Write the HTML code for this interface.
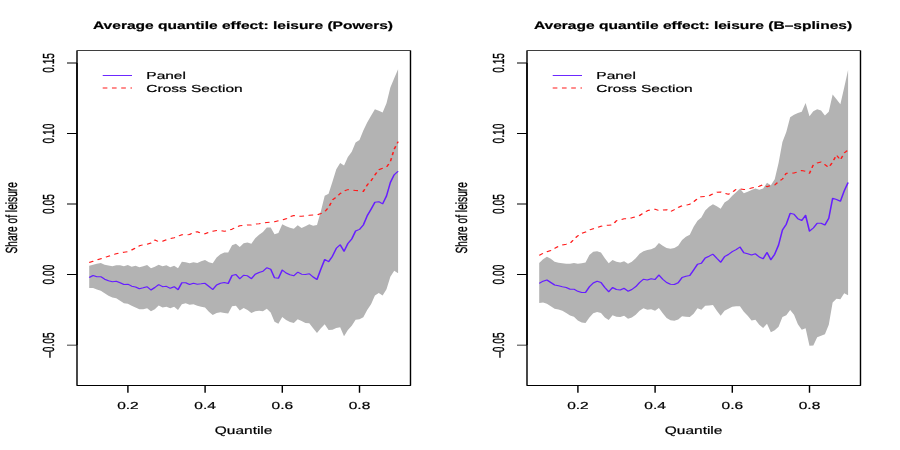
<!DOCTYPE html>
<html><head><meta charset="utf-8"><title>Average quantile effect: leisure</title>
<style>
html,body{margin:0;padding:0;background:#fff;}
body{width:900px;height:450px;overflow:hidden;font-family:"Liberation Sans",sans-serif;}
svg{display:block;will-change:transform;}
</style></head><body>
<svg width="900" height="450" viewBox="0 0 900 450">
<rect width="900" height="450" fill="#fff"/>
<g transform="scale(1.5,1)" fill="none" stroke-width="0.95" stroke-linejoin="round">
<polygon points="59.47,265.8 62.04,264.7 64.61,263.8 67.19,263 69.76,264.7 72.34,265.5 74.91,266.2 77.48,265.3 80.06,265.3 82.63,266.2 85.21,265 87.78,266.7 90.35,265.8 92.93,267.2 95.5,266.2 98.08,265 100.65,268.3 103.22,266.7 105.8,264.7 108.37,266.3 110.95,265.3 113.52,267.2 116.09,265.8 118.67,268.3 121.24,261.7 123.82,262.2 126.39,263.3 128.96,262.2 131.54,263 134.11,261.3 136.69,260 139.26,262.2 141.83,263.3 144.41,257.5 146.98,254.2 149.56,252.5 152.13,252.5 154.7,245.3 157.28,243.8 159.85,247 162.43,243.3 165,242.5 167.57,243.7 170.15,238.3 172.72,234.7 175.3,232 177.87,227.5 180.44,227.5 183.02,234.2 185.59,233 188.17,224.2 190.74,226.3 193.31,227.8 195.89,228.7 198.46,225.3 201.04,228 203.61,226.3 206.18,224.2 208.76,225.8 211.33,225 213.91,211.2 216.48,195.8 219.05,193.7 221.63,181.8 224.2,169.2 226.78,163 229.35,165.5 231.92,157 234.5,151.8 237.07,142.5 239.65,140 242.22,130.6 244.79,122.5 247.37,115.8 249.94,109.2 252.52,110.8 255.09,112.5 257.66,103.3 260.24,87.5 262.81,78.3 265.39,69.2 265.39,273.3 262.81,270.8 260.24,276.7 257.66,289.2 255.09,295.5 252.52,293 249.94,295.5 247.37,304.2 244.79,310 242.22,317.2 239.65,319.2 237.07,319.7 234.5,325.8 231.92,330 229.35,336.3 226.78,327.2 224.2,328 221.63,329.7 219.05,330 216.48,324.2 213.91,328.3 211.33,333 208.76,328.3 206.18,323.2 203.61,323 201.04,321 198.46,319.2 195.89,323 193.31,322 190.74,320 188.17,317 185.59,323.7 183.02,321.7 180.44,312.5 177.87,308.8 175.3,311.3 172.72,310.8 170.15,311.2 167.57,313 165,310 162.43,308 159.85,310.5 157.28,305.8 154.7,306.3 152.13,313.5 149.56,313 146.98,312.3 144.41,313 141.83,315 139.26,311.7 136.69,307.5 134.11,306.7 131.54,305.8 128.96,304.2 126.39,304.7 123.82,303.3 121.24,304.2 118.67,310 116.09,306.7 113.52,308.3 110.95,306.7 108.37,307.5 105.8,305.5 103.22,309.2 100.65,311.3 98.08,308.3 95.5,309.2 92.93,309.2 90.35,307.5 87.78,305.8 85.21,303.8 82.63,303.3 80.06,300.8 77.48,298.3 74.91,297.5 72.34,295.8 69.76,293.3 67.19,290.8 64.61,289.5 62.04,288 59.47,288" fill="#b3b3b3" stroke="none"/>
<polyline points="59.47,277.5 62.04,275.5 64.61,276.7 67.19,276.7 69.76,279.2 72.34,280.8 74.91,281.7 77.48,281.3 80.06,282.8 82.63,284.5 85.21,284.2 87.78,286.2 90.35,287 92.93,288.7 95.5,287.8 98.08,286.7 100.65,290 103.22,287.5 105.8,284.7 108.37,286.7 110.95,286.3 113.52,288.3 116.09,286.7 118.67,289.7 121.24,282.8 123.82,282.8 126.39,284.5 128.96,283.3 131.54,284.2 134.11,283.8 136.69,283.3 139.26,286.3 141.83,289.5 144.41,285 146.98,283.3 149.56,282.5 152.13,283.5 154.7,275.5 157.28,274.5 159.85,278.8 162.43,275.3 165,275.8 167.57,278.7 170.15,274.2 172.72,272.5 175.3,271.3 177.87,267.8 180.44,269.2 183.02,277.8 185.59,278.3 188.17,270 190.74,273 193.31,274.7 195.89,275.8 198.46,272.2 201.04,274.2 203.61,274.5 206.18,273.7 208.76,277 211.33,279.5 213.91,269.2 216.48,259.5 219.05,261.7 221.63,256.2 224.2,248.3 226.78,244.8 229.35,251.3 231.92,243.5 234.5,239 237.07,231 239.65,229.4 242.22,225 244.79,215.8 247.37,209.2 249.94,202.2 252.52,201.7 255.09,203.8 257.66,196 260.24,182.5 262.81,174.7 265.39,171.3" stroke="#661eff" stroke-width="1.05"/>
<polyline points="59.47,262.5 62.04,261.2 64.61,260 67.19,258.7 69.76,257.5 72.34,256.2 74.91,255 77.48,253.7 80.06,252.8 82.63,252.2 85.21,251.7 87.78,250 90.35,248 92.93,245.8 95.5,244.7 98.08,244.2 100.65,243 103.22,240 105.8,241.7 108.37,241.2 110.95,239.7 113.52,238.7 116.09,237.8 118.67,236.3 121.24,234.7 123.82,235 126.39,234.5 128.96,232.5 131.54,231.7 134.11,233.3 136.69,233.8 139.26,232.3 141.83,231.3 144.41,230.5 146.98,230.5 149.56,231.2 152.13,230.5 154.7,229.2 157.28,227.2 159.85,225.8 162.43,225.3 165,225 167.57,225 170.15,224.2 172.72,223.7 175.3,223 177.87,222.5 180.44,222 183.02,221.7 185.59,220.8 188.17,220 190.74,218.8 193.31,216.7 195.89,215.5 198.46,216.2 201.04,216.2 203.61,215.8 206.18,215.3 208.76,215 211.33,215 213.91,213.5 216.48,211.7 219.05,207.5 221.63,200 224.2,197.2 226.78,193.5 229.35,191 231.92,189.6 234.5,190 237.07,190.5 239.65,190.7 242.22,191.5 244.79,185 247.37,180.8 249.94,175 252.52,169.7 255.09,168.3 257.66,167.2 260.24,161.7 262.81,149.2 265.39,141.7" stroke="#ff1a1a" stroke-width="1.05" stroke-dasharray="3.1 3.07"/>
<path d="M51.33,62.95V345.12M51.33,62.95h-6.67M51.33,133.5h-6.67M51.33,204.03h-6.67M51.33,274.57h-6.67M51.33,345.12h-6.67M85.27,385.45H239.67M85.27,385.45v7.2M136.73,385.45v7.2M188.2,385.45v7.2M239.67,385.45v7.2" stroke="#000"/>
<rect x="51.33" y="50.6" width="222.33" height="334.85" stroke="#000"/>
<line x1="68.47" y1="75.5" x2="88" y2="75.5" stroke="#661eff"/>
<line x1="68.47" y1="88" x2="88" y2="88" stroke="#ff1a1a" stroke-dasharray="3.1 3.07"/>
</g>
<g font-family="Liberation Sans, sans-serif" font-size="10.2" fill="#000" stroke="#000" stroke-width="0.2" text-anchor="middle" text-rendering="geometricPrecision">
<text transform="translate(54.4,62.95) rotate(-90) scale(1,1.57)">0.15</text>
<text transform="translate(54.4,133.5) rotate(-90) scale(1,1.57)">0.10</text>
<text transform="translate(54.4,204.03) rotate(-90) scale(1,1.57)">0.05</text>
<text transform="translate(54.4,274.57) rotate(-90) scale(1,1.57)">0.00</text>
<text transform="translate(54.4,345.12) rotate(-90) scale(1,1.57)">–0.05</text>
<text transform="translate(127.9,408.6) scale(1.52,1)">0.2</text>
<text transform="translate(205.1,408.6) scale(1.52,1)">0.4</text>
<text transform="translate(282.3,408.6) scale(1.52,1)">0.6</text>
<text transform="translate(359.5,408.6) scale(1.52,1)">0.8</text>
<text transform="translate(243.6,433.7) scale(1.42,1)" font-size="10.9">Quantile</text>
<text transform="translate(16.8,217.8) rotate(-90) scale(1,1.58)">Share of leisure</text>
<text transform="translate(243,28.8) scale(1.44,1)" font-weight="bold" font-size="10.8">Average quantile effect: leisure (Powers)</text>
<text transform="translate(146.3,79.1) scale(1.52,1)" text-anchor="start">Panel</text>
<text transform="translate(146.3,91.9) scale(1.52,1)" text-anchor="start">Cross Section</text>
</g>
<g transform="scale(1.5,1)" fill="none" stroke-width="0.95" stroke-linejoin="round">
<polygon points="359.47,263 362.04,259.2 364.61,256.7 367.19,258.8 369.76,261.7 372.34,262.8 374.91,263.3 377.48,263.7 380.06,263.8 382.63,263 385.21,263.7 387.78,263.3 390.35,262.5 392.93,255 395.5,251.7 398.08,251.3 400.65,252.5 403.22,258.3 405.8,263.3 408.37,260 410.95,261.7 413.52,262.5 416.09,261.2 418.67,263.7 421.24,261.7 423.82,258.3 426.39,253.8 428.96,251.2 431.54,250 434.11,249.2 436.69,247.5 439.26,243 441.83,245.8 444.41,248 446.98,248.8 449.56,248 452.13,245.8 454.7,240 457.28,236.7 459.85,234.7 462.43,226.7 465,220.8 467.57,217.5 470.15,210.5 472.72,206.7 475.3,204.2 477.87,206.3 480.44,208.7 483.02,202.5 485.59,200 488.17,195.8 490.74,192.2 493.31,188.8 495.89,193.3 498.46,191.7 501.04,190 503.61,188.5 506.18,189.7 508.76,188.5 511.33,182.7 513.91,185.2 516.48,179.3 519.05,163 521.63,142 524.2,132 526.78,117.2 529.35,114.7 531.92,113 534.5,111.7 537.07,103 539.65,116.3 542.22,111.3 544.79,109.2 547.37,110.5 549.94,115.5 552.52,111.7 555.09,94.5 557.66,99.2 560.24,104.2 562.81,87.5 565.39,70 565.39,295.3 562.81,293.3 560.24,299.2 557.66,298.7 555.09,302.5 552.52,324.7 549.94,334.2 547.37,335.8 544.79,337.2 542.22,345.5 539.65,345.8 537.07,328.3 534.5,329.7 531.92,324.2 529.35,314.7 526.78,310 524.2,315.3 521.63,317 519.05,326.7 516.48,330.3 513.91,332.2 511.33,323.7 508.76,328 506.18,324.7 503.61,319.7 501.04,320.5 498.46,315.8 495.89,311.7 493.31,306.2 490.74,306.2 488.17,306.7 485.59,308.7 483.02,310.8 480.44,315.8 477.87,310.8 475.3,305 472.72,305.5 470.15,305.8 467.57,309.7 465,308.3 462.43,313.7 459.85,317 457.28,316.7 454.7,316.2 452.13,319.5 449.56,320.8 446.98,320.3 444.41,318 441.83,313.3 439.26,308 436.69,310.8 434.11,309.2 431.54,309.7 428.96,308.3 426.39,310.8 423.82,314.7 421.24,317.5 418.67,318.8 416.09,315.8 413.52,317 410.95,316.7 408.37,315.3 405.8,320 403.22,317.5 400.65,313 398.08,312 395.5,313.3 392.93,317.5 390.35,323 387.78,322.5 385.21,320.5 382.63,316.7 380.06,315.5 377.48,313 374.91,310.8 372.34,309.5 369.76,308.7 367.19,306.3 364.61,303.8 362.04,302.5 359.47,303" fill="#b3b3b3" stroke="none"/>
<polyline points="359.47,283.3 362.04,281.2 364.61,280 367.19,282.5 369.76,285 372.34,285.8 374.91,286.7 377.48,287.5 380.06,289.2 382.63,289.2 385.21,291.3 387.78,292.5 390.35,292.5 392.93,286.7 395.5,283 398.08,281.3 400.65,282.5 403.22,287.5 405.8,291.7 408.37,287.5 410.95,289.5 413.52,290 416.09,288.3 418.67,291.2 421.24,289.5 423.82,286.7 426.39,282.5 428.96,279.2 431.54,280 434.11,278.7 436.69,279.5 439.26,275 441.83,279.2 444.41,282.5 446.98,284.2 449.56,284.5 452.13,282.7 454.7,277.5 457.28,276.3 459.85,275.5 462.43,270 465,264.2 467.57,263.3 470.15,258 472.72,256.2 475.3,254.2 477.87,258.3 480.44,262.2 483.02,256.7 485.59,254.5 488.17,251.7 490.74,249.7 493.31,247 495.89,252.8 498.46,253.8 501.04,255 503.61,253.8 506.18,257 508.76,258.7 511.33,252.5 513.91,259.7 516.48,254.2 519.05,245 521.63,230 524.2,224.2 526.78,213.3 529.35,214.2 531.92,218.7 534.5,220.5 537.07,215.3 539.65,231.2 542.22,228 544.79,223.3 547.37,223.3 549.94,225 552.52,218.3 555.09,198.3 557.66,199.5 560.24,201.3 562.81,190.8 565.39,182.5" stroke="#661eff" stroke-width="1.05"/>
<polyline points="359.47,255.3 362.04,253.3 364.61,251.7 367.19,250.5 369.76,248.3 372.34,246.3 374.91,245 377.48,244.2 380.06,243.3 382.63,239.2 385.21,235.8 387.78,233.3 390.35,232 392.93,230 395.5,228.7 398.08,227.5 400.65,226.2 403.22,225.3 405.8,225.3 408.37,224.7 410.95,220.8 413.52,219.7 416.09,218.8 418.67,218.8 421.24,217.8 423.82,216.7 426.39,215.5 428.96,213 431.54,210.8 434.11,209.5 436.69,209.2 439.26,210.5 441.83,210 444.41,209.7 446.98,211.7 449.56,209.7 452.13,207.5 454.7,205.8 457.28,205.3 459.85,204.2 462.43,201.7 465,198.7 467.57,196.7 470.15,196.5 472.72,195.8 475.3,193.7 477.87,192.2 480.44,192 483.02,193.3 485.59,194.2 488.17,192.5 490.74,189.2 493.31,188.8 495.89,189.5 498.46,189.2 501.04,188 503.61,187.2 506.18,186.2 508.76,184.7 511.33,186.7 513.91,185.5 516.48,185 519.05,181.7 521.63,179 524.2,173.2 526.78,173.3 529.35,173 531.92,171.7 534.5,170.5 537.07,171.3 539.65,173.3 542.22,164.7 544.79,163 547.37,162 549.94,164.7 552.52,167.5 555.09,162 557.66,155 560.24,160 562.81,153 565.39,150" stroke="#ff1a1a" stroke-width="1.05" stroke-dasharray="3.1 3.07"/>
<path d="M351.33,62.95V345.12M351.33,62.95h-6.67M351.33,133.5h-6.67M351.33,204.03h-6.67M351.33,274.57h-6.67M351.33,345.12h-6.67M385.27,385.45H539.67M385.27,385.45v7.2M436.73,385.45v7.2M488.2,385.45v7.2M539.67,385.45v7.2" stroke="#000"/>
<rect x="351.33" y="50.6" width="222.33" height="334.85" stroke="#000"/>
<line x1="368.47" y1="75.5" x2="388" y2="75.5" stroke="#661eff"/>
<line x1="368.47" y1="88" x2="388" y2="88" stroke="#ff1a1a" stroke-dasharray="3.1 3.07"/>
</g>
<g font-family="Liberation Sans, sans-serif" font-size="10.2" fill="#000" stroke="#000" stroke-width="0.2" text-anchor="middle" text-rendering="geometricPrecision">
<text transform="translate(504.4,62.95) rotate(-90) scale(1,1.57)">0.15</text>
<text transform="translate(504.4,133.5) rotate(-90) scale(1,1.57)">0.10</text>
<text transform="translate(504.4,204.03) rotate(-90) scale(1,1.57)">0.05</text>
<text transform="translate(504.4,274.57) rotate(-90) scale(1,1.57)">0.00</text>
<text transform="translate(504.4,345.12) rotate(-90) scale(1,1.57)">–0.05</text>
<text transform="translate(577.9,408.6) scale(1.52,1)">0.2</text>
<text transform="translate(655.1,408.6) scale(1.52,1)">0.4</text>
<text transform="translate(732.3,408.6) scale(1.52,1)">0.6</text>
<text transform="translate(809.5,408.6) scale(1.52,1)">0.8</text>
<text transform="translate(693.6,433.7) scale(1.42,1)" font-size="10.9">Quantile</text>
<text transform="translate(466.8,217.8) rotate(-90) scale(1,1.58)">Share of leisure</text>
<text transform="translate(693,28.8) scale(1.44,1)" font-weight="bold" font-size="10.8">Average quantile effect: leisure (B–splines)</text>
<text transform="translate(596.3,79.1) scale(1.52,1)" text-anchor="start">Panel</text>
<text transform="translate(596.3,91.9) scale(1.52,1)" text-anchor="start">Cross Section</text>
</g>
</svg>
</body></html>
